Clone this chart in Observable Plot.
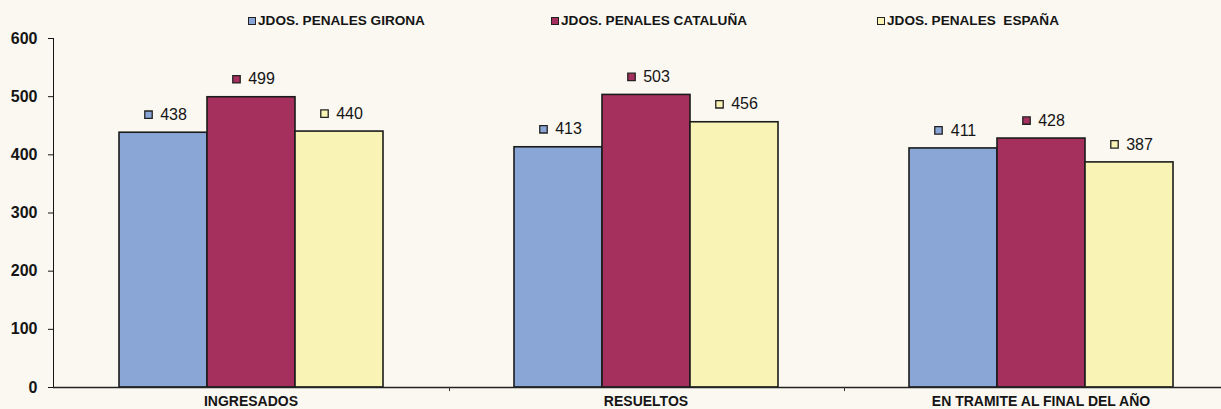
<!DOCTYPE html>
<html>
<head>
<meta charset="utf-8">
<script src="https://cdn.jsdelivr.net/npm/d3@7"></script>
<script src="https://cdn.jsdelivr.net/npm/@observablehq/plot@0.6"></script>
<style>
  html, body { margin: 0; padding: 0; background: #faf8f1; overflow: hidden; }
  #wrap { position: relative; width: 1221px; height: 409px; font-family: "Liberation Sans", Arial, sans-serif; }
  .leg { position: absolute; top: 13px; display: flex; align-items: center; font-weight: bold; font-size: 13.6px; color: #151515; white-space: pre; }
  .sw { width: 6px; height: 6px; border: 1.5px solid #222; margin-right: 2px; }
  #wrap g[aria-label="y-axis tick label"], #wrap g[aria-label="y-axis"] { font-size: 16px; }
</style>
</head>
<body>
<div id="wrap"></div>
<script>
const categories = ["INGRESADOS", "RESUELTOS", "EN TRAMITE AL FINAL DEL AÑO"];
const seriesNames = ["JDOS. PENALES GIRONA", "JDOS. PENALES CATALUÑA", "JDOS. PENALES  ESPAÑA"];
const seriesKeys = ["GIRONA", "CATALUÑA", "ESPAÑA"];
const colors = ["#8aa6d6", "#a5305d", "#f9f3b6"];
const girona = [438, 413, 411];
const cataluna = [499, 503, 428];
const espana = [440, 456, 387];
const yTicks = [0, 100, 200, 300, 400, 500, 600];
const legendLeft = [248, 551, 877];

const values = [girona, cataluna, espana];
const data = [];
categories.forEach((c, i) => {
  seriesKeys.forEach((s, j) => data.push({category: c, series: s, value: values[j][i]}));
});
const boundaries = categories.slice(1);

const wrap = document.getElementById("wrap");

const chart = Plot.plot({
  width: 1221,
  height: 409,
  marginLeft: 53,
  marginRight: -17,
  marginTop: 38,
  marginBottom: 22,
  style: {background: "transparent", fontFamily: "Liberation Sans, Arial, sans-serif", fontSize: "14px", fontWeight: "bold", color: "#151515"},
  fx: {domain: categories, padding: 0, axis: "bottom", tickSize: 0, tickPadding: 9, label: null},
  x: {domain: seriesKeys, paddingInner: 0, paddingOuter: 0.73, axis: null},
  y: {domain: [0, 600], ticks: yTicks, tickSize: 5, tickPadding: 11, label: null, line: true},
  color: {domain: seriesKeys, range: colors},
  marks: [
    Plot.barY(data, {fx: "category", x: "series", y: "value", fill: "series", stroke: "#1b1b1b", strokeWidth: 1.6, inset: 0}),
    Plot.ruleY([0], {stroke: "#222", strokeWidth: 1.3}),
    Plot.ruleX(boundaries, {fx: d => d, x: () => seriesKeys[0], y1: 0, y2: -7, dx: -109, stroke: "#333"}),
    Plot.dot(data, {fx: "category", x: "series", y: "value", symbol: "square", r: 4.2, fill: "series", stroke: "#222", strokeWidth: 1.3, dx: -15, dy: -18}),
    Plot.text(data, {fx: "category", x: "series", y: "value", text: d => String(d.value), dx: 10, dy: -18, fontSize: 16, fontWeight: "normal", fill: "#151515"})
  ]
});
wrap.appendChild(chart);

seriesNames.forEach((n, i) => {
  const d = document.createElement("div");
  d.className = "leg";
  d.style.left = legendLeft[i] + "px";
  const sw = document.createElement("span");
  sw.className = "sw";
  sw.style.background = colors[i];
  d.appendChild(sw);
  d.appendChild(document.createTextNode(n));
  wrap.appendChild(d);
});
</script>
</body>
</html>
